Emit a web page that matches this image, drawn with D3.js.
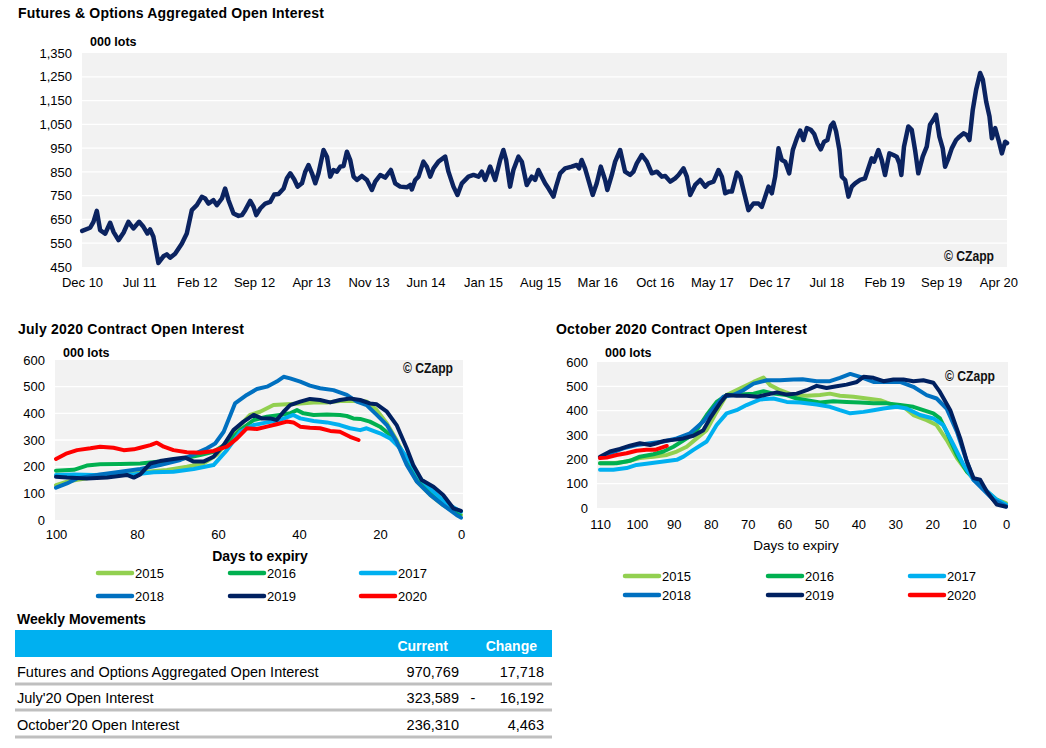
<!DOCTYPE html>
<html>
<head>
<meta charset="utf-8">
<script src="https://cdn.jsdelivr.net/npm/d3@7"></script>
<style>
body{margin:0;background:#fff;}
svg{display:block;}
</style>
</head>
<body>
<svg id="c" width="1046" height="748"></svg>
<script>
// ---------------- DATA ----------------
// Top chart: futures & options aggregated open interest (000 lots), [decimal year, value]
const oiSeries = [
[2010.917,602],[2010.998,615],[2011.032,640],[2011.066,686],[2011.100,605],[2011.151,590],[2011.202,636],[2011.236,598],
[2011.287,563],[2011.338,594],[2011.388,640],[2011.439,612],[2011.497,640],[2011.541,619],[2011.582,591],[2011.609,608],
[2011.643,577],[2011.694,467],[2011.745,495],[2011.779,503],[2011.813,489],[2011.864,506],[2011.932,548],[2011.983,591],
[2012.034,689],[2012.085,710],[2012.136,745],[2012.170,738],[2012.203,717],[2012.254,731],[2012.289,710],[2012.340,738],
[2012.373,780],[2012.407,731],[2012.458,675],[2012.509,665],[2012.543,668],[2012.577,689],[2012.628,728],[2012.662,703],
[2012.689,668],[2012.730,696],[2012.781,717],[2012.831,724],[2012.872,755],[2012.916,757],[2012.967,780],[2013.001,823],
[2013.035,844],[2013.076,818],[2013.109,788],[2013.154,802],[2013.188,851],[2013.221,879],[2013.256,844],[2013.290,802],
[2013.323,844],[2013.374,942],[2013.409,914],[2013.442,830],[2013.476,858],[2013.510,851],[2013.544,872],[2013.578,875],
[2013.612,935],[2013.646,900],[2013.680,830],[2013.714,816],[2013.765,833],[2013.816,816],[2013.867,774],[2013.901,809],
[2013.952,837],[2014.002,826],[2014.060,858],[2014.104,802],[2014.155,788],[2014.223,785],[2014.257,795],[2014.274,776],
[2014.308,816],[2014.342,830],[2014.392,893],[2014.427,872],[2014.461,830],[2014.495,865],[2014.545,893],[2014.614,914],
[2014.647,851],[2014.698,788],[2014.739,753],[2014.784,802],[2014.851,830],[2014.902,837],[2014.953,830],[2014.987,851],
[2015.021,816],[2015.072,872],[2015.123,816],[2015.174,900],[2015.207,942],[2015.235,900],[2015.275,788],[2015.309,858],
[2015.360,914],[2015.395,893],[2015.445,795],[2015.496,830],[2015.530,816],[2015.564,858],[2015.598,830],[2015.632,802],
[2015.666,781],[2015.717,746],[2015.744,788],[2015.785,844],[2015.836,865],[2015.903,872],[2015.954,879],[2015.978,865],
[2016.005,900],[2016.039,865],[2016.073,816],[2016.117,753],[2016.158,802],[2016.199,872],[2016.243,816],[2016.266,774],
[2016.311,837],[2016.345,893],[2016.396,942],[2016.446,851],[2016.497,837],[2016.531,851],[2016.565,886],[2016.616,921],
[2016.667,893],[2016.718,844],[2016.769,851],[2016.820,830],[2016.854,833],[2016.905,809],[2016.955,823],[2016.989,837],
[2017.040,865],[2017.074,830],[2017.108,753],[2017.159,795],[2017.210,816],[2017.261,788],[2017.295,802],[2017.346,809],
[2017.397,858],[2017.431,830],[2017.465,760],[2017.499,767],[2017.533,767],[2017.584,847],[2017.618,830],[2017.651,774],
[2017.702,689],[2017.753,717],[2017.804,717],[2017.838,703],[2017.872,745],[2017.906,788],[2017.940,760],[2017.974,830],
[2018.008,949],[2018.042,900],[2018.076,893],[2018.117,844],[2018.154,942],[2018.195,991],[2018.229,1024],[2018.262,984],
[2018.297,1034],[2018.337,1027],[2018.371,1010],[2018.405,970],[2018.439,945],[2018.473,977],[2018.507,984],[2018.541,1043],
[2018.568,1057],[2018.595,1020],[2018.629,942],[2018.653,830],[2018.687,816],[2018.721,746],[2018.755,788],[2018.789,802],
[2018.840,816],[2018.890,823],[2018.924,865],[2018.958,907],[2018.982,893],[2019.026,942],[2019.060,900],[2019.094,837],
[2019.138,928],[2019.179,921],[2019.213,914],[2019.240,886],[2019.260,837],[2019.287,956],[2019.331,1041],[2019.366,1027],
[2019.400,942],[2019.433,844],[2019.478,914],[2019.519,956],[2019.552,1048],[2019.586,1069],[2019.614,1090],[2019.648,998],
[2019.682,949],[2019.706,872],[2019.740,907],[2019.774,949],[2019.818,984],[2019.852,998],[2019.893,1012],[2019.927,1005],
[2019.954,984],[2019.988,1111],[2020.022,1195],[2020.063,1266],[2020.090,1238],[2020.124,1146],[2020.158,1083],[2020.182,991],
[2020.216,1034],[2020.250,984],[2020.284,928],[2020.318,977],[2020.336,971]
];
const topYTicks = [450,550,650,750,850,950,1050,1150,1250,1350];
const topXTickLabels = ["Dec 10","Jul 11","Feb 12","Sep 12","Apr 13","Nov 13","Jun 14","Jan 15","Aug 15","Mar 16","Oct 16","May 17","Dec 17","Jul 18","Feb 19","Sep 19","Apr 20"];

// Legend / series
const seriesNames = ["2015","2016","2017","2018","2019","2020"];
const seriesColors = ["#92d050","#00b050","#00b0f0","#0070c0","#002060","#ff0000"];

// July 2020 contract: [days to expiry, 000 lots]
const jul2015 = [[100,131],[97.3,144],[92.4,156],[87.4,169],[82.5,171],[77.5,181],[72.6,188],[67.7,200],[63.6,212],[60.3,244],[57.0,306],[54.5,356],[52.1,394],[49.6,406],[46.3,431],[43.0,434],[39.7,437],[36.4,441],[33.1,441],[29.9,446],[26.6,446],[23.3,444],[20.8,412],[18.3,362],[15.9,300],[13.4,219],[10.9,144],[7.6,94],[4.4,56],[1.1,25],[0,19]];
const jul2016 = [[100,185],[95.6,188],[92.4,204],[89.1,209],[84.1,210],[79.2,212],[74.3,219],[69.3,229],[64.4,244],[61.1,256],[57.8,287],[54.5,337],[51.2,375],[47.9,387],[44.7,394],[42.2,400],[40.5,412],[38.9,400],[36.4,394],[33.1,396],[29.9,394],[28.2,390],[26.6,381],[24.9,379],[22.5,369],[20.0,350],[17.5,319],[15.0,269],[12.6,206],[10.1,150],[6.8,100],[3.5,59],[0.3,19]];
const jul2017 = [[100,169],[95.6,171],[90.7,169],[85.8,171],[80.8,171],[75.9,179],[71.0,181],[66.0,191],[61.1,206],[57.8,262],[54.5,331],[51.2,356],[47.9,366],[44.7,375],[41.4,394],[39.7,381],[36.4,371],[33.1,366],[29.9,356],[27.4,344],[24.9,337],[23.3,344],[20.0,325],[17.5,306],[15.0,269],[12.6,219],[10.1,156],[6.8,106],[3.5,62],[0,31]];
const jul2018 = [[100,121],[97.3,137],[94.8,156],[89.1,171],[84.1,181],[79.2,191],[74.3,206],[69.3,225],[66.0,246],[62.7,269],[60.7,287],[58.6,331],[55.8,437],[52.9,469],[50.4,491],[47.9,500],[45.5,519],[43.8,537],[42.2,531],[39.7,519],[37.3,504],[34.8,494],[31.5,487],[28.2,469],[25.7,444],[23.3,431],[20.8,394],[18.3,356],[15.9,294],[13.4,206],[10.9,144],[7.6,94],[4.4,56],[1.1,19],[0,9]];
const jul2019 = [[100,162],[97.3,159],[92.4,156],[87.4,159],[82.5,169],[80.8,159],[79.2,171],[76.7,212],[74.3,221],[71.0,229],[68.1,234],[66.0,219],[63.6,219],[61.1,237],[58.6,281],[56.2,337],[53.7,369],[51.2,394],[49.2,381],[47.1,381],[45.5,375],[43.8,406],[42.2,431],[39.7,444],[37.3,454],[34.8,450],[32.3,441],[29.9,450],[27.4,456],[24.9,450],[22.5,437],[20.8,434],[18.3,406],[15.9,356],[13.4,269],[11.8,206],[9.7,150],[6.8,125],[4.4,94],[1.9,44],[0,34]];
const jul2020 = [[100,229],[97.3,250],[94.8,262],[91.5,269],[89.1,275],[85.8,271],[83.3,262],[80.8,265],[79.2,271],[76.7,281],[75.1,290],[73.4,275],[71.0,262],[67.7,254],[64.4,252],[61.1,259],[57.8,275],[55.3,306],[52.9,344],[50.4,341],[47.9,350],[45.5,359],[43.0,369],[41.4,366],[39.7,350],[37.3,346],[34.8,344],[32.3,334],[29.9,331],[27.4,312],[25.3,300]];

// October 2020 contract: [days to expiry, 000 lots]
const oct2015 = [[110,184],[106.4,184],[102.8,191],[99.2,205],[95.5,211],[91.9,218],[89.2,232],[86.5,252],[83.8,286],[81.1,320],[78.4,395],[75.7,464],[72.1,491],[68.4,518],[65.7,536],[63.9,505],[61.2,484],[57.6,464],[54.0,461],[50.4,464],[47.7,470],[45.0,461],[41.3,457],[37.7,450],[34.1,443],[30.5,423],[27.8,416],[25.1,382],[21.5,361],[18.8,341],[16.1,280],[13.3,205],[10.6,150],[7.9,109],[5.2,68],[2.5,34],[0,20]];
const oct2016 = [[110,184],[105.5,184],[101.9,194],[99.2,211],[95.5,221],[92.8,232],[90.1,252],[86.5,286],[83.8,320],[81.1,382],[78.4,436],[75.7,464],[72.1,466],[68.4,470],[65.7,480],[63.0,470],[59.4,464],[56.7,450],[54.0,443],[50.4,434],[46.8,439],[43.2,436],[39.5,434],[35.9,430],[32.3,430],[28.7,423],[25.1,416],[22.4,402],[19.7,389],[17.9,368],[16.1,314],[13.3,218],[10.6,150],[8.8,123],[6.1,82],[3.4,41],[0,11]];
const oct2017 = [[110,157],[106.4,157],[102.8,164],[100.1,177],[96.4,184],[92.8,191],[89.2,198],[87.4,211],[84.7,239],[81.1,273],[78.4,341],[75.7,389],[73.0,402],[70.3,423],[66.6,446],[63.0,450],[59.4,436],[55.8,434],[51.3,425],[47.7,416],[45.0,402],[42.2,389],[38.6,395],[35.9,402],[33.2,409],[29.6,416],[26.9,409],[23.3,382],[19.7,368],[17.0,341],[14.2,259],[11.5,177],[8.8,116],[6.1,82],[2.5,34],[0,14]];
const oct2018 = [[110,207],[107.3,225],[103.7,245],[100.1,259],[96.4,266],[92.8,273],[89.2,286],[85.6,307],[82.0,355],[79.3,409],[76.6,457],[73.9,464],[71.2,484],[68.4,511],[64.8,525],[61.2,525],[57.6,528],[55.1,529],[51.3,521],[47.7,521],[45.0,535],[42.2,551],[39.5,539],[35.9,518],[32.3,518],[28.7,518],[25.1,498],[21.5,464],[18.8,450],[16.1,409],[13.3,314],[10.6,191],[8.8,116],[6.1,75],[3.4,34],[0,7]];
const oct2019 = [[110,211],[107.3,232],[104.6,243],[101.9,256],[99.2,266],[96.4,259],[94.6,266],[92.8,275],[90.1,280],[87.4,286],[84.7,297],[82.0,320],[80.2,368],[77.5,430],[75.7,464],[73.0,461],[70.3,461],[67.5,457],[64.8,466],[62.1,475],[59.4,466],[56.7,470],[54.0,484],[51.3,502],[48.6,493],[45.9,500],[43.2,507],[40.4,518],[38.6,539],[35.9,535],[33.2,521],[30.5,528],[27.8,528],[25.1,521],[22.4,525],[19.7,515],[17.9,477],[15.1,402],[12.4,286],[10.6,191],[8.8,123],[7.0,116],[5.2,68],[2.5,14],[0,5]];
const oct2020 = [[110,205],[108.2,207],[105.5,218],[102.8,225],[100.1,235],[97.4,239],[95.1,239],[93.3,248],[91.9,255]];

const julySeries = [jul2015, jul2016, jul2017, jul2018, jul2019, jul2020];
const octSeries = [oct2015, oct2016, oct2017, oct2018, oct2019, oct2020];
const smallYTicks = [0,100,200,300,400,500,600];
const julyXTicks = [100,80,60,40,20,0];
const octXTicks = [110,100,90,80,70,60,50,40,30,20,10,0];

// Weekly movements table
const tableHeaders = ["Current","Change"];
const tableLabels = ["Futures and Options Aggregated Open Interest","July'20 Open Interest","October'20 Open Interest"];
const tableCurrent = ["970,769","323,589","236,310"];
const tableSign = ["","-",""];
const tableChange = ["17,718","16,192","4,463"];

// ---------------- DRAW ----------------
const FONT = '"Liberation Sans", Arial, Helvetica, sans-serif';
const NARROW = '"Liberation Sans Narrow", "Arial Narrow", "Liberation Sans", Arial, sans-serif';
const svg = d3.select("#c").attr("font-family", FONT);
const BG = "#f2f2f2";

function decYear(y){
  const yr = Math.floor(y);
  const a = new Date(yr,0,1), b = new Date(yr+1,0,1);
  return new Date(+a + (y-yr)*(b-a));
}
function styleAxis(g, size){
  g.attr("font-family", FONT).attr("font-size", size);
  g.select(".domain").remove();
  g.selectAll(".tick line").remove();
  g.selectAll("text").attr("fill","#000");
}
function title(x, y, txt, len){
  svg.append("text").attr("x",x).attr("y",y).attr("dy","0.35em")
    .attr("font-weight","bold").attr("font-size",14)
    .attr("textLength",len).attr("lengthAdjust","spacing").text(txt);
}
function unitLabel(x, y){
  svg.append("text").attr("x",x).attr("y",y).attr("dy","0.35em")
    .attr("font-weight","bold").attr("font-size",12.5).text("000 lots");
}
function czapp(xEnd, y){
  svg.append("text").attr("x",xEnd-50).attr("y",y).attr("dy","0.35em")
    .attr("font-family",NARROW).attr("font-weight","bold").attr("font-size",14)
    .attr("textLength",50).attr("lengthAdjust","spacingAndGlyphs").attr("fill","#111").text("\u00A9 CZapp");
}

// ---- Top chart ----
title(18, 13, "Futures & Options Aggregated Open Interest", 306);
unitLabel(90, 42);
const tX0 = 82, tX1 = 1007, tY0 = 53, tY1 = 267;
svg.append("rect").attr("x",tX0).attr("y",tY0).attr("width",tX1-tX0).attr("height",tY1-tY0).attr("fill",BG);
const xT = d3.scaleTime().domain([new Date(2010,11,1), decYear(oiSeries[oiSeries.length-1][0])]).range([tX0,tX1]);
const yT = d3.scaleLinear().domain([450,1350]).range([tY1,tY0]);
svg.append("g").selectAll("line").data(topYTicks.filter(d=>d>450 && d<1350)).join("line")
  .attr("x1",tX0).attr("x2",tX1).attr("y1",d=>yT(d)).attr("y2",d=>yT(d))
  .attr("stroke","#fff").attr("stroke-width",1.3);
svg.append("g").attr("transform",`translate(${tX0},0)`)
  .call(d3.axisLeft(yT).tickValues(topYTicks).tickFormat(d3.format(",")).tickSize(0).tickPadding(10))
  .call(g=>styleAxis(g,13));
const topTickDates = topXTickLabels.map((_,i)=>new Date(2010, 11+7*i, 1));
svg.append("g").attr("transform",`translate(0,${tY1})`)
  .call(d3.axisBottom(xT).tickValues(topTickDates).tickFormat((d,i)=>topXTickLabels[i]).tickSize(0).tickPadding(11))
  .call(g=>styleAxis(g,13));
svg.append("path").datum(oiSeries)
  .attr("d", d3.line().x(d=>xT(decYear(d[0]))).y(d=>yT(d[1])))
  .attr("fill","none").attr("stroke","#0b2360").attr("stroke-width",4.5)
  .attr("stroke-linejoin","round").attr("stroke-linecap","round");
czapp(994, 256);

// ---- Small panels ----
function panel(opt){
  const {x0,x1,y0,y1,dom,rx0,rx1,xticks,series,padX,padY} = opt;
  svg.append("rect").attr("x",x0).attr("y",y0).attr("width",x1-x0).attr("height",y1-y0).attr("fill",BG);
  const x = d3.scaleLinear().domain(dom).range([rx0,rx1]);
  const y = d3.scaleLinear().domain([0,600]).range([y1,y0]);
  svg.append("g").selectAll("line").data(smallYTicks.filter(d=>d>0 && d<600)).join("line")
    .attr("x1",x0).attr("x2",x1).attr("y1",d=>y(d)).attr("y2",d=>y(d))
    .attr("stroke","#fff").attr("stroke-width",1.3);
  svg.append("g").attr("transform",`translate(${x0},0)`)
    .call(d3.axisLeft(y).tickValues(smallYTicks).tickSize(0).tickPadding(padY))
    .call(g=>styleAxis(g,13));
  svg.append("g").attr("transform",`translate(0,${y1})`)
    .call(d3.axisBottom(x).tickValues(xticks).tickSize(0).tickPadding(padX))
    .call(g=>styleAxis(g,13));
  const line = d3.line().x(d=>x(d[0])).y(d=>y(d[1]));
  series.forEach((s,i)=>{
    svg.append("path").datum(s).attr("d",line)
      .attr("fill","none").attr("stroke",seriesColors[i]).attr("stroke-width",4)
      .attr("stroke-linejoin","round").attr("stroke-linecap","round");
  });
}
function legend(cols, rows){
  seriesNames.forEach((n,i)=>{
    const cx = cols[i%3], cy = rows[Math.floor(i/3)];
    svg.append("line").attr("x1",cx+2).attr("x2",cx+36).attr("y1",cy).attr("y2",cy)
      .attr("stroke",seriesColors[i]).attr("stroke-width",4.5).attr("stroke-linecap","round");
    svg.append("text").attr("x",cx+39).attr("y",cy).attr("dy","0.35em").attr("font-size",13).text(n);
  });
}

// July chart
title(18, 329, "July 2020 Contract Open Interest", 226);
unitLabel(63, 353);
panel({x0:55,x1:463,y0:360,y1:520,dom:[100,0],rx0:56,rx1:461,xticks:julyXTicks,series:julySeries,padX:10,padY:10});
czapp(453, 368);
svg.append("text").attr("x",260).attr("y",556).attr("dy","0.35em").attr("text-anchor","middle")
  .attr("font-weight","bold").attr("font-size",14).text("Days to expiry");
legend([96,228,359],[573,596]);

// October chart
title(556, 329, "October 2020 Contract Open Interest", 251);
unitLabel(605, 353);
panel({x0:597,x1:1008,y0:362,y1:508,dom:[110,0],rx0:600,rx1:1006,xticks:octXTicks,series:octSeries,padX:12,padY:9});
czapp(995, 376);
svg.append("text").attr("x",796).attr("y",545).attr("dy","0.35em").attr("text-anchor","middle")
  .attr("font-size",13.5).text("Days to expiry");
legend([623,766,908],[576,595]);

// ---- Table ----
svg.append("text").attr("x",17).attr("y",619).attr("dy","0.35em").attr("font-weight","bold").attr("font-size",14).text("Weekly Movements");
svg.append("rect").attr("x",15).attr("y",630).attr("width",537).attr("height",27).attr("fill","#00b0f0");
const headX = [448,537];
tableHeaders.forEach((h,i)=>{
  svg.append("text").attr("x",headX[i]).attr("y",646).attr("dy","0.35em").attr("text-anchor","end")
    .attr("font-weight","bold").attr("font-size",14).attr("fill","#fff").text(h);
});
const rowY = [672,698,725];
const sepY = [684,710,737];
tableLabels.forEach((l,i)=>{
  const g = svg.append("g").attr("font-size",14.5);
  g.append("text").attr("x",17).attr("y",rowY[i]).attr("dy","0.35em").text(l);
  g.append("text").attr("x",459).attr("y",rowY[i]).attr("dy","0.35em").attr("text-anchor","end").text(tableCurrent[i]);
  g.append("text").attr("x",473).attr("y",rowY[i]).attr("dy","0.35em").attr("text-anchor","middle").text(tableSign[i]);
  g.append("text").attr("x",544).attr("y",rowY[i]).attr("dy","0.35em").attr("text-anchor","end").text(tableChange[i]);
  svg.append("line").attr("x1",15).attr("x2",552).attr("y1",sepY[i]).attr("y2",sepY[i])
    .attr("stroke","#bfbfbf").attr("stroke-width",3);
});
</script>
</body>
</html>
